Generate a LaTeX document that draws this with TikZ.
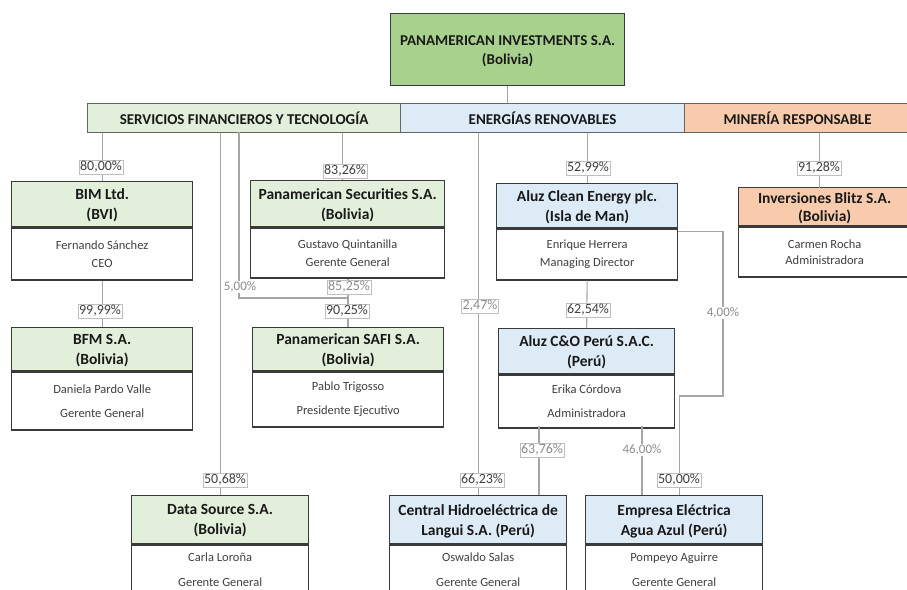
\documentclass[tikz,border=0pt]{standalone}
\usepackage{fontspec}
\setmainfont{Carlito}
\usepackage{xcolor}
\usepackage{tikz}
\usetikzlibrary{positioning}
\definecolor{topgreen}{HTML}{A9D18E}
\definecolor{grn}{HTML}{E2EFDA}
\definecolor{blu}{HTML}{DDEBF7}
\definecolor{org}{HTML}{F8CBAD}
\definecolor{boxline}{HTML}{3A3A3A}
\definecolor{wire}{HTML}{A6A6A6}
\definecolor{bodytext}{HTML}{404040}
\definecolor{softtext}{HTML}{8C8C8C}
\tikzset{head/.style={draw=boxline,line width=1.3pt,fill=#1,align=center,inner sep=0pt,anchor=north west,text depth=-9pt,font=\fontsize{15.5}{20}\selectfont\bfseries,text=black!90},
  body/.style={draw=boxline,line width=1.3pt,fill=white,align=center,inner sep=0pt,text=bodytext,font=\fontsize{12.5}{18}\selectfont},
  sector/.style={draw=black!60,line width=1.1pt,fill=#1,inner sep=0pt,anchor=north west,minimum height=29pt,font=\fontsize{15}{17}\selectfont\bfseries,text=black!90},
  link/.style={draw=wire,line width=1.1pt},
  pct/.style={draw=black!25,line width=0.6pt,fill=white,inner sep=1.2pt,font=\fontsize{14}{15}\selectfont,text=bodytext},
  pct soft/.style={pct,text=softtext},
  pct bare/.style={fill=white,inner sep=0.8pt,font=\fontsize{13}{15}\selectfont,text=softtext}}

\begin{document}
\begin{tikzpicture}[x=1pt,y=-1pt]
  \useasboundingbox (0,0) rectangle (907,589);
  \clip (0,0) rectangle (907,589);
  % holding and sectors
  \node[head=topgreen,minimum width=234pt,minimum height=72pt,text depth=-7pt,font=\fontsize{15}{19}\selectfont\bfseries] (panam) at (390,13) {PANAMERICAN INVESTMENTS S.A.\\(Bolivia)};
  \node[sector=grn,minimum width=313pt] (sft) at (87,103) {SERVICIOS FINANCIEROS Y TECNOLOGÍA};
  \node[sector=blu,minimum width=284pt] (ener) at (400,103) {ENERGÍAS RENOVABLES};
  \node[sector=org,minimum width=226pt] (mine) at (684,103) {MINERÍA RESPONSABLE};
  % companies
  \node[head=grn,minimum width=181pt,minimum height=45pt] (bim) at (11,181) {BIM Ltd.\\(BVI)};
  \node[body,minimum width=181pt,minimum height=52pt,below=0pt of bim] (bimb) {Fernando Sánchez\\CEO};
  \node[head=grn,minimum width=194pt,minimum height=46pt] (sec) at (250,180) {Panamerican Securities S.A.\\(Bolivia)};
  \node[body,minimum width=194pt,minimum height=50pt,below=0pt of sec] (secb) {Gustavo Quintanilla\\Gerente General};
  \node[head=blu,minimum width=181pt,minimum height=44pt] (aluz) at (496,183) {Aluz Clean Energy plc.\\(Isla de Man)};
  \node[body,minimum width=181pt,minimum height=51pt,below=0pt of aluz] (aluzb) {Enrique Herrera\\Managing Director};
  \node[head=org,minimum width=172pt,minimum height=38pt,font=\fontsize{15.5}{18}\selectfont\bfseries] (blitz) at (738,187) {Inversiones Blitz S.A.\\(Bolivia)};
  \node[body,minimum width=172pt,minimum height=50pt,below=0pt of blitz,font=\fontsize{12.5}{16}\selectfont] (blitzb) {Carmen Rocha\\Administradora};
  \node[head=grn,minimum width=181pt,minimum height=43pt] (bfm) at (11,327) {BFM S.A.\\(Bolivia)};
  \node[body,minimum width=181pt,minimum height=58pt,below=0pt of bfm,font=\fontsize{12.5}{24}\selectfont] (bfmb) {Daniela Pardo Valle\\Gerente General};
  \node[head=grn,minimum width=191pt,minimum height=43pt] (safi) at (252,327) {Panamerican SAFI S.A.\\(Bolivia)};
  \node[body,minimum width=191pt,minimum height=55pt,below=0pt of safi,font=\fontsize{12.5}{24}\selectfont] (safib) {Pablo Trigosso\\Presidente Ejecutivo};
  \node[head=blu,minimum width=176pt,minimum height=45pt] (cyo) at (498,328) {Aluz C\&O Perú S.A.C.\\(Perú)};
  \node[body,minimum width=176pt,minimum height=53pt,below=0pt of cyo,font=\fontsize{12.5}{24}\selectfont] (cyob) {Erika Córdova\\Administradora};
  \node[head=grn,minimum width=177pt,minimum height=48pt] (data) at (131,495) {Data Source S.A.\\(Bolivia)};
  \node[body,minimum width=177pt,minimum height=50pt,below=0pt of data,font=\fontsize{12.5}{25}\selectfont] (datab) {Carla Loroña\\Gerente General};
  \node[head=blu,minimum width=177pt,minimum height=48pt] (hidro) at (389,495) {Central Hidroeléctrica de\\Langui S.A. (Perú)};
  \node[body,minimum width=177pt,minimum height=50pt,below=0pt of hidro,font=\fontsize{12.5}{25}\selectfont] (hidrob) {Oswaldo Salas\\Gerente General};
  \node[head=blu,minimum width=177pt,minimum height=48pt] (agua) at (585,495) {Empresa Eléctrica\\Agua Azul (Perú)};
  \node[body,minimum width=177pt,minimum height=50pt,below=0pt of agua,font=\fontsize{12.5}{25}\selectfont] (aguab) {Pompeyo Aguirre\\Gerente General};
  % ownership links
  \coordinate (join) at (348,298);
  \coordinate (turn) at (723,396);
  \draw[link] (panam.south) -- (panam.south |- ener.north);
  \draw[link] (sft.south -| bim.north) -- (bim.north);
  \draw[link] (bimb.south) -- (bfm.north);
  \draw[link] ([xshift=-5pt]sft.south -| sec.north) -- ([xshift=-5pt]sec.north);
  \draw[link] (sft.south -| data.north) -- (data.north);
  \draw[link] (239,132) |- (join);
  \draw[link] (secb.south -| join) -- (join) -- (join |- safi.north);
  \draw[link] (ener.south -| hidro.north) -- (hidro.north);
  \draw[link] (ener.south -| aluz.north) -- (aluz.north);
  \draw[link] (aluzb.south) -- (cyo.north);
  \draw[link] (mine.south -| blitz.north) ++(-5pt,0) -- ++(0,55);
  \draw[link] ([yshift=-3pt]aluzb.north east) -| (turn) -| ([xshift=5pt]agua.north);
  \draw[link] (539,426) -- (539,495);
  \draw[link] (642,426) -- (642,495);
  % percentages
  \node[pct] (p1) at (101,167) {80,00\%};
  \node[pct] (p2) at (345,171) {83,26\%};
  \node[pct] (p3) at (588,168) {52,99\%};
  \node[pct] (p4) at (819,168) {91,28\%};
  \node[pct] (p5) at (100,311) {99,99\%};
  \node[pct bare] (p6) at (240,287) {5,00\%};
  \node[pct soft] (p7) at (349,287) {85,25\%};
  \node[pct] (p8) at (347,311) {90,25\%};
  \node[pct soft] (p9) at (480,306) {2,47\%};
  \node[pct] (p10) at (588,310) {62,54\%};
  \node[pct bare] (p11) at (723,313) {4,00\%};
  \node[pct soft] (p12) at (542,450) {63,76\%};
  \node[pct bare] (p13) at (642,450) {46,00\%};
  \node[pct] (p14) at (225,480) {50,68\%};
  \node[pct] (p15) at (482,480) {66,23\%};
  \node[pct] (p16) at (679,480) {50,00\%};
\end{tikzpicture}
\end{document}
